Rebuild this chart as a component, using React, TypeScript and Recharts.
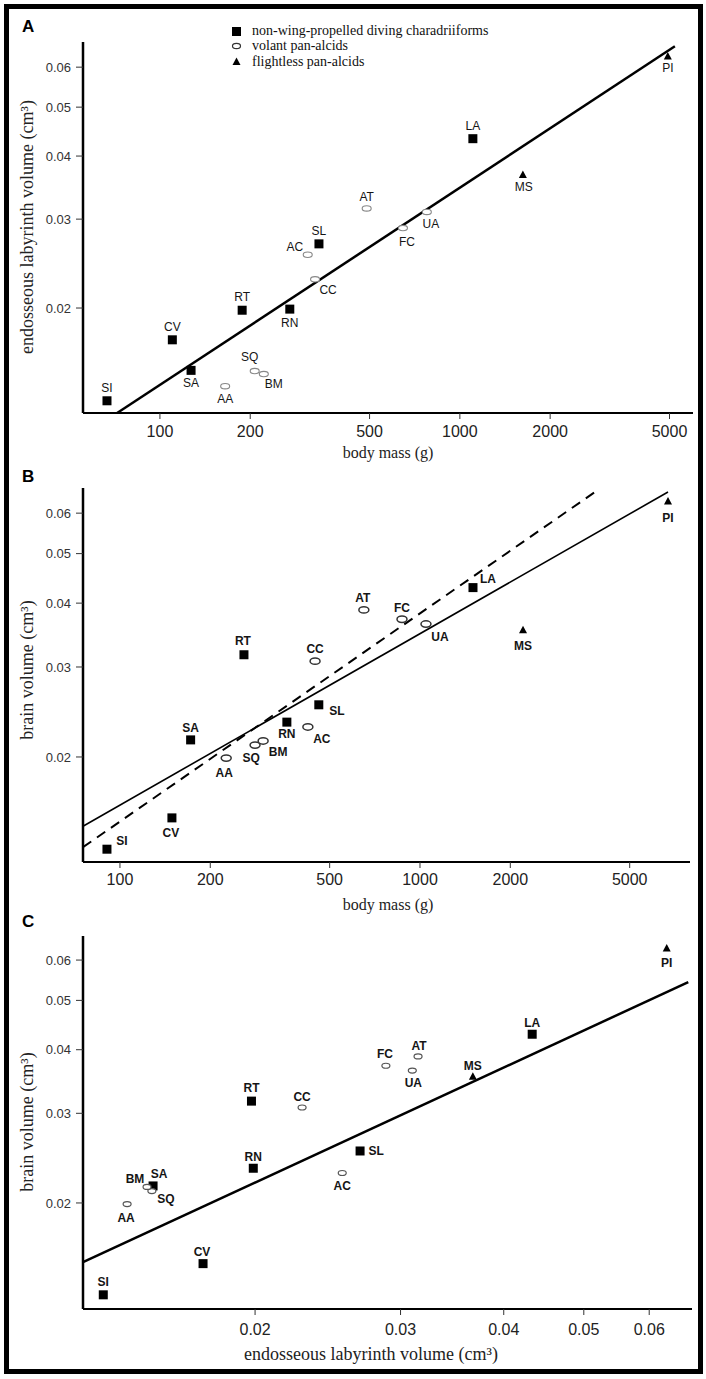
import React from 'react';
import { ScatterChart, Scatter, XAxis, YAxis, ReferenceLine } from 'recharts';

// ---------- data ----------
const species = ['SI', 'CV', 'SA', 'RT', 'RN', 'SL', 'AC', 'CC', 'SQ', 'BM', 'AA', 'AT', 'FC', 'UA', 'LA', 'MS', 'PI'];
const groups = ['nw', 'nw', 'nw', 'nw', 'nw', 'nw', 'vo', 'vo', 'vo', 'vo', 'vo', 'vo', 'vo', 'vo', 'nw', 'fl', 'fl'];
const massA = [66.6, 110, 127, 188, 271, 339, 311, 329, 207, 222, 165, 489, 646, 776, 1105, 1622, 4935];
const massB = [90.5, 149, 172, 259, 360, 460, 423, 447, 282, 300, 226, 650, 871, 1047, 1502, 2205, 6709];
const labVol = [0.0131, 0.0173, 0.01505, 0.0198, 0.0199, 0.0268, 0.0255, 0.0228, 0.0150, 0.0148, 0.0140, 0.0315, 0.0288, 0.0310, 0.0433, 0.0367, 0.0630];
const brainVol = [0.0132, 0.0152, 0.0216, 0.0317, 0.0234, 0.0253, 0.0229, 0.0308, 0.0211, 0.0215, 0.0199, 0.0388, 0.0372, 0.0364, 0.0429, 0.0354, 0.0632];

const fitA = [{ x: 72, y: 0.01239 }, { x: 5210, y: 0.066 }];
const fitBSolid = [{ x: 75.3, y: 0.01464 }, { x: 6709, y: 0.066 }];
const fitBDashed = [{ x: 75.3, y: 0.01332 }, { x: 3830, y: 0.066 }];
const fitC = [{ x: 0.01238, y: 0.0153 }, { x: 0.0669, y: 0.0543 }];

const massTicks = [100, 200, 500, 1000, 2000, 5000];
const volTicks = [0.02, 0.03, 0.04, 0.05, 0.06];

const legendItems = [
  { group: 'nw', text: 'non-wing-propelled diving charadriiforms' },
  { group: 'vo', text: 'volant pan-alcids' },
  { group: 'fl', text: 'flightless pan-alcids' },
];

// ---------- label placement (style) ----------
const offsetsA: Record<string, number[]> = {
  SI: [0, -13], CV: [0, -13], SA: [0, 12], RT: [0, -14], RN: [0, 14], SL: [0, -13], AC: [-13, -8], CC: [13, 10],
  SQ: [-5, -14], BM: [10, 10], AA: [0, 12], AT: [0, -12], FC: [4, 14], UA: [4, 12], LA: [0, -13], MS: [1, 12], PI: [0, 11],
};
const offsetsB: Record<string, number[]> = {
  SI: [15, -9], CV: [-1, 15], SA: [0, -12], AA: [-2, 15], SQ: [-4, 13], BM: [15, 11], RN: [0, 12], AC: [14, 12],
  SL: [18, 6], CC: [0, -12], RT: [-1, -14], AT: [-1, -12], FC: [0, -12], UA: [14, 13], LA: [15, -9], MS: [0, 15], PI: [0, 16],
};
const offsetsC: Record<string, number[]> = {
  SI: [0, -13], CV: [-1, -12], SA: [6, -12], BM: [-12, -8], SQ: [14, 8], AA: [-1, 14], RN: [0, -12], AC: [0, 13],
  SL: [16, 0], CC: [0, -11], RT: [0, -13], FC: [-1, -12], AT: [1, -11], UA: [1, 12], MS: [0, -11], LA: [0, -12], PI: [0, 14],
};

const SANS = '"Liberation Sans", Arial, Helvetica, sans-serif';
const SERIF = '"Liberation Serif", "Times New Roman", serif';

type Row = { x: number; y: number; code: string; group: string };

function rows(xs: number[], ys: number[], g: string): Row[] {
  const out: Row[] = [];
  species.forEach((code, i) => {
    if (groups[i] === g) out.push({ x: xs[i], y: ys[i], code, group: g });
  });
  return out;
}

type EllStyle = { rx: number; ry: number; stroke: string; sw: number };

function Marker({ g, cx, cy, ell }: { g: string; cx: number; cy: number; ell: EllStyle }) {
  if (g === 'nw') return <rect x={cx - 4.5} y={cy - 4.5} width={9} height={9} fill="#000" />;
  if (g === 'vo')
    return <ellipse cx={cx} cy={cy} rx={ell.rx} ry={ell.ry} fill="#fff" stroke={ell.stroke} strokeWidth={ell.sw} />;
  return <path d={`M${cx},${cy - 4.5} L${cx + 4},${cy + 3} L${cx - 4},${cy + 3} Z`} fill="#000" />;
}

function makeShape(offsets: Record<string, number[]>, bold: boolean, ell: EllStyle) {
  return (props: any) => {
    const { cx, cy, payload } = props;
    if (cx == null || cy == null) return <g />;
    const [dx, dy] = offsets[payload.code] || [0, -12];
    return (
      <g>
        <Marker g={payload.group} cx={cx} cy={cy} ell={ell} />
        <text
          x={cx + dx}
          y={cy + dy}
          dy="0.36em"
          textAnchor="middle"
          fontSize={12}
          fontWeight={bold ? 'bold' : 'normal'}
          fontFamily={SANS}
          fill="#151515"
        >
          {payload.code}
        </text>
      </g>
    );
  };
}

const fmtVol = (v: number) => v.toFixed(2);
const fmtMass = (v: number) => String(v);

type PanelProps = {
  top: number;
  height: number;
  marginTop: number;
  marginRight: number;
  xAxisHeight: number;
  xDomain: number[];
  yDomain: number[];
  xTicks: number[];
  xFmt: (v: number) => string;
  xTickMargin: number;
  xs: number[];
  ys: number[];
  offsets: Record<string, number[]>;
  bold: boolean;
  ell: EllStyle;
  lines: { seg: { x: number; y: number }[]; width: number; dash?: string }[];
};

function Panel(p: PanelProps) {
  const shape = makeShape(p.offsets, p.bold, p.ell);
  return (
    <div style={{ position: 'absolute', left: 0, top: p.top }}>
      <ScatterChart
        width={706}
        height={p.height}
        margin={{ top: p.marginTop, right: p.marginRight, bottom: 0, left: 0 }}
      >
        <XAxis
          type="number"
          dataKey="x"
          scale="log"
          domain={p.xDomain}
          allowDataOverflow
          ticks={p.xTicks}
          tickFormatter={p.xFmt}
          height={p.xAxisHeight}
          axisLine={{ stroke: '#000', strokeWidth: 2 }}
          tickLine={{ stroke: '#333', strokeWidth: 1 }}
          tickSize={6}
          tickMargin={p.xTickMargin}
          tick={{ fontSize: 16, fill: '#222', fontFamily: SANS }}
          interval={0}
        />
        <YAxis
          type="number"
          dataKey="y"
          scale="log"
          domain={p.yDomain}
          allowDataOverflow
          ticks={volTicks}
          tickFormatter={fmtVol}
          width={83}
          axisLine={{ stroke: '#000', strokeWidth: 2.5 }}
          tickLine={{ stroke: '#333', strokeWidth: 1 }}
          tickSize={7}
          tickMargin={5}
          tick={{ fontSize: 13, fill: '#333', fontFamily: SANS }}
          interval={0}
        />
        {p.lines.map((l, i) => (
          <ReferenceLine
            key={i}
            segment={l.seg}
            stroke="#000"
            strokeWidth={l.width}
            strokeDasharray={l.dash}
            ifOverflow="visible"
          />
        ))}
        <Scatter data={rows(p.xs, p.ys, 'nw')} shape={shape} isAnimationActive={false} />
        <Scatter data={rows(p.xs, p.ys, 'vo')} shape={shape} isAnimationActive={false} />
        <Scatter data={rows(p.xs, p.ys, 'fl')} shape={shape} isAnimationActive={false} />
      </ScatterChart>
    </div>
  );
}

function Overlay() {
  const legendY = [31.5, 46, 62];
  const baseY = [35, 50, 66];
  return (
    <svg
      width={706}
      height={1379}
      style={{ position: 'absolute', left: 0, top: 0, pointerEvents: 'none' }}
    >
      <text x={22} y={32} fontSize={17} fontWeight="bold" fontFamily={SANS} fill="#000">A</text>
      <text x={22} y={482} fontSize={17} fontWeight="bold" fontFamily={SANS} fill="#000">B</text>
      <text x={22} y={927} fontSize={17} fontWeight="bold" fontFamily={SANS} fill="#000">C</text>

      {legendItems.map((it, i) => (
        <g key={it.group}>
          <Marker g={it.group} cx={236.5} cy={legendY[i]} ell={{ rx: 4, ry: 2.6, stroke: '#333', sw: 1.2 }} />
          <text x={252} y={baseY[i]} fontSize={14} fontFamily={SERIF} fill="#111">{it.text}</text>
        </g>
      ))}

      <text x={33} y={227} transform="rotate(-90 33 227)" textAnchor="middle" fontSize={18} fontFamily={SERIF} fill="#222">
        endosseous labyrinth volume (cm³)
      </text>
      <text x={388} y={458} textAnchor="middle" fontSize={16} fontFamily={SERIF} fill="#222">body mass (g)</text>

      <text x={33} y={670} transform="rotate(-90 33 670)" textAnchor="middle" fontSize={18} fontFamily={SERIF} fill="#222">
        brain volume (cm³)
      </text>
      <text x={388} y={910} textAnchor="middle" fontSize={16} fontFamily={SERIF} fill="#222">body mass (g)</text>

      <text x={33} y={1122} transform="rotate(-90 33 1122)" textAnchor="middle" fontSize={18} fontFamily={SERIF} fill="#222">
        brain volume (cm³)
      </text>
      <text x={371} y={1360} textAnchor="middle" fontSize={18} fontFamily={SERIF} fill="#222">
        endosseous labyrinth volume (cm³)
      </text>
    </svg>
  );
}

export default function App() {
  return (
    <div
      style={{
        position: 'absolute',
        left: 0,
        top: 0,
        width: 706,
        height: 1379,
        overflow: 'hidden',
        background: '#fff',
      }}
    >
      <div
        style={{
          position: 'absolute',
          left: 4,
          top: 4,
          width: 699,
          height: 1370,
          border: '5px solid #000',
          boxSizing: 'border-box',
        }}
      />
      <Panel
        top={0}
        height={460}
        marginTop={42}
        marginRight={13}
        xAxisHeight={47}
        xDomain={[55.4, 5988]}
        yDomain={[0.01239, 0.0673]}
        xTicks={massTicks}
        xFmt={fmtMass}
        xTickMargin={7}
        xs={massA}
        ys={labVol}
        offsets={offsetsA}
        bold={false}
        ell={{ rx: 4.5, ry: 2.7, stroke: '#888', sw: 1.1 }}
        lines={[{ seg: fitA, width: 2.5 }]}
      />
      <Panel
        top={460}
        height={450}
        marginTop={28}
        marginRight={16}
        xAxisHeight={48}
        xDomain={[75.3, 7943]}
        yDomain={[0.01246, 0.0672]}
        xTicks={massTicks}
        xFmt={fmtMass}
        xTickMargin={6}
        xs={massB}
        ys={brainVol}
        offsets={offsetsB}
        bold={true}
        ell={{ rx: 5, ry: 3.2, stroke: '#333', sw: 1.5 }}
        lines={[
          { seg: fitBSolid, width: 1.6 },
          { seg: fitBDashed, width: 2, dash: '10 7' },
        ]}
      />
      <Panel
        top={910}
        height={469}
        marginTop={26}
        marginRight={14}
        xAxisHeight={70}
        xDomain={[0.01238, 0.0676]}
        yDomain={[0.01238, 0.0669]}
        xTicks={volTicks}
        xFmt={fmtVol}
        xTickMargin={9}
        xs={labVol}
        ys={brainVol}
        offsets={offsetsC}
        bold={true}
        ell={{ rx: 4, ry: 2.5, stroke: '#555', sw: 1.2 }}
        lines={[{ seg: fitC, width: 2.5 }]}
      />
      <Overlay />
    </div>
  );
}
